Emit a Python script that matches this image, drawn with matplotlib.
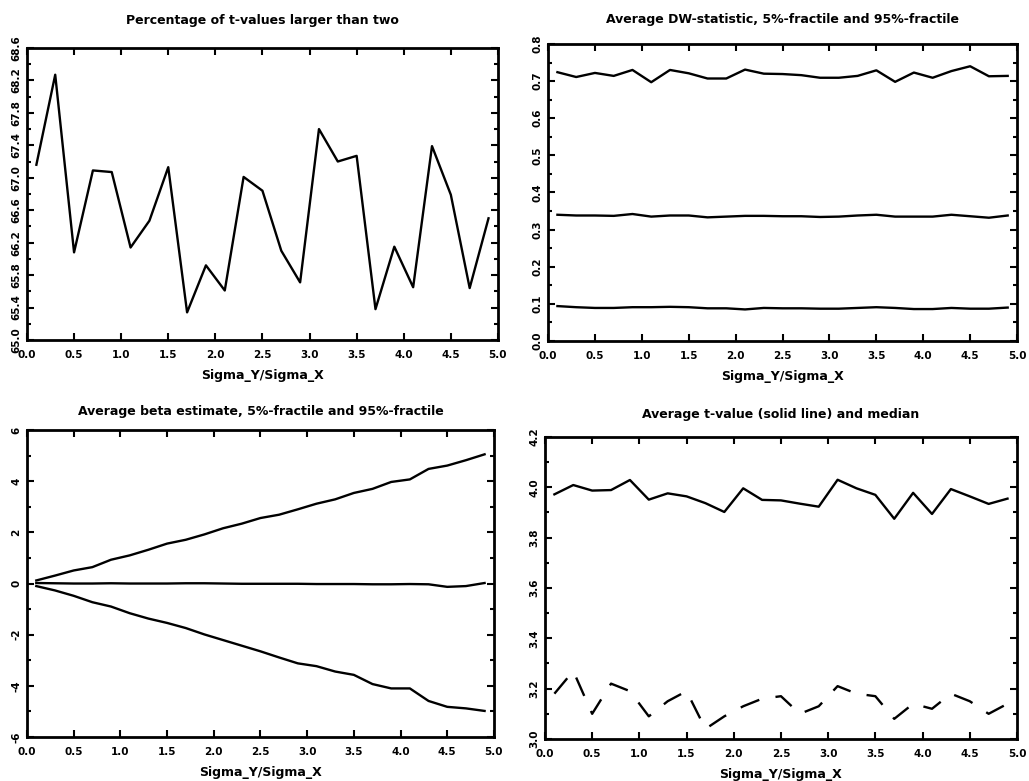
"""Monte Carlo summary figure: t-values, DW statistic, beta estimates, average t."""
import numpy as np
import matplotlib
matplotlib.use("Agg")
import matplotlib.pyplot as plt  # noqa: E402
from matplotlib.ticker import FixedLocator, MultipleLocator, FormatStrFormatter  # noqa: E402

# Sigma_Y/Sigma_X grid
ratio = [0.1, 0.3, 0.5, 0.7, 0.9, 1.1, 1.3, 1.5, 1.7, 1.9, 2.1, 2.3, 2.5,
         2.7, 2.9, 3.1, 3.3, 3.5, 3.7, 3.9, 4.1, 4.3, 4.5, 4.7, 4.9]

pct_t_gt_two = [67.16, 68.27, 66.08, 67.09, 67.07, 66.14, 66.47, 67.13, 65.34,
                65.92, 65.61, 67.01, 66.84, 66.10, 65.71, 67.60, 67.20, 67.27,
                65.38, 66.15, 65.65, 67.39, 66.79, 65.64, 66.50]

dw_95 = [0.724, 0.711, 0.722, 0.714, 0.730, 0.697, 0.730, 0.721, 0.707, 0.707,
         0.731, 0.720, 0.719, 0.716, 0.709, 0.709, 0.714, 0.729, 0.698, 0.723,
         0.709, 0.727, 0.740, 0.713, 0.714]
dw_mean = [0.340, 0.338, 0.338, 0.337, 0.342, 0.335, 0.338, 0.338, 0.333, 0.335,
           0.337, 0.337, 0.336, 0.336, 0.334, 0.335, 0.338, 0.340, 0.335, 0.335,
           0.335, 0.340, 0.336, 0.332, 0.338]
dw_05 = [0.094, 0.091, 0.089, 0.089, 0.091, 0.091, 0.092, 0.091, 0.088, 0.088,
         0.085, 0.089, 0.088, 0.088, 0.087, 0.087, 0.089, 0.091, 0.089, 0.086,
         0.086, 0.089, 0.087, 0.087, 0.090]

beta_95 = [0.12, 0.31, 0.51, 0.64, 0.93, 1.10, 1.32, 1.56, 1.71, 1.92, 2.16,
           2.34, 2.56, 2.69, 2.90, 3.12, 3.29, 3.54, 3.70, 3.97, 4.07, 4.48,
           4.61, 4.82, 5.05]
beta_mean = [0.02, 0.01, 0.00, 0.00, 0.01, 0.00, 0.00, 0.00, 0.01, 0.01, 0.00,
             -0.01, -0.01, -0.01, -0.01, -0.02, -0.02, -0.02, -0.03, -0.03,
             -0.02, -0.03, -0.13, -0.10, 0.02]
beta_05 = [-0.10, -0.27, -0.48, -0.73, -0.90, -1.16, -1.37, -1.54, -1.74, -1.99,
           -2.21, -2.43, -2.65, -2.89, -3.12, -3.23, -3.44, -3.57, -3.93, -4.10,
           -4.10, -4.59, -4.82, -4.88, -4.98]

t_mean = [3.972, 4.009, 3.987, 3.989, 4.029, 3.951, 3.976, 3.964, 3.937, 3.902,
          3.996, 3.950, 3.948, 3.935, 3.923, 4.030, 3.996, 3.970, 3.875, 3.978,
          3.894, 3.993, 3.964, 3.934, 3.955]
t_median = [3.18, 3.27, 3.10, 3.22, 3.19, 3.09, 3.15, 3.19, 3.04, 3.09, 3.13,
            3.16, 3.17, 3.10, 3.13, 3.21, 3.18, 3.17, 3.08, 3.14, 3.12, 3.18,
            3.15, 3.10, 3.14]

plt.rcParams["font.family"] = "DejaVu Sans"
plt.rcParams["font.weight"] = "bold"

LW = 1.7


def style_axes(ax, title, pad, ylim, ymajor, yfmt):
    lo, hi = ylim
    ax.set_xlim(0.0, 5.0)
    ax.set_ylim(lo, hi)
    ax.xaxis.set_major_locator(MultipleLocator(0.5))
    ax.xaxis.set_major_formatter(FormatStrFormatter("%.1f"))
    ax.yaxis.set_major_locator(FixedLocator(np.arange(lo, hi + ymajor / 10, ymajor)))
    ax.yaxis.set_minor_locator(FixedLocator(np.arange(lo + ymajor / 2, hi, ymajor)))
    ax.yaxis.set_major_formatter(FormatStrFormatter(yfmt))
    ax.tick_params(which="both", direction="in", top=True, right=True,
                   width=1.5, labelsize=7.5)
    ax.tick_params(which="major", length=5)
    ax.tick_params(which="minor", length=3)
    ax.tick_params(axis="y", pad=4)
    ax.tick_params(axis="x", pad=7)
    for lbl in ax.get_yticklabels():
        lbl.set_rotation(90)
        lbl.set_va("center")
        lbl.set_fontweight("bold")
    for lbl in ax.get_xticklabels():
        lbl.set_fontweight("bold")
    ax.get_xticklabels()[0].set_ha("left")
    for sp in ax.spines.values():
        sp.set_linewidth(2.0)
    ax.set_title(title, fontsize=9, fontweight="bold", pad=pad)
    ax.set_xlabel("Sigma_Y/Sigma_X", fontsize=9, fontweight="bold", labelpad=7)


fig = plt.figure(figsize=(10.29, 7.81), dpi=100)
ax1 = fig.add_axes([0.0262, 0.5647, 0.4577, 0.3739])
ax2 = fig.add_axes([0.5326, 0.5634, 0.4558, 0.3803])
ax3 = fig.add_axes([0.0262, 0.0563, 0.4538, 0.3931])
ax4 = fig.add_axes([0.5296, 0.0538, 0.4587, 0.3867])

ax1.plot(ratio, pct_t_gt_two, color="black", linewidth=LW)
style_axes(ax1, "Percentage of t-values larger than two", 17,
           (65.0, 68.6), 0.4, "%.1f")

for series in (dw_95, dw_mean, dw_05):
    ax2.plot(ratio, series, color="black", linewidth=LW)
style_axes(ax2, "Average DW-statistic, 5%-fractile and 95%-fractile", 15,
           (0.0, 0.8), 0.1, "%.1f")

for series in (beta_95, beta_mean, beta_05):
    ax3.plot(ratio, series, color="black", linewidth=LW)
style_axes(ax3, "Average beta estimate, 5%-fractile and 95%-fractile", 11,
           (-6, 6), 2, "%d")

ax4.plot(ratio, t_mean, color="black", linewidth=LW)
ax4.plot(ratio, t_median, color="black", linewidth=LW, dashes=(8.5, 7))
style_axes(ax4, "Average t-value (solid line) and median", 14,
           (3.0, 4.2), 0.2, "%.1f")

fig.savefig("out.png", dpi=100)
plt.close(fig)
